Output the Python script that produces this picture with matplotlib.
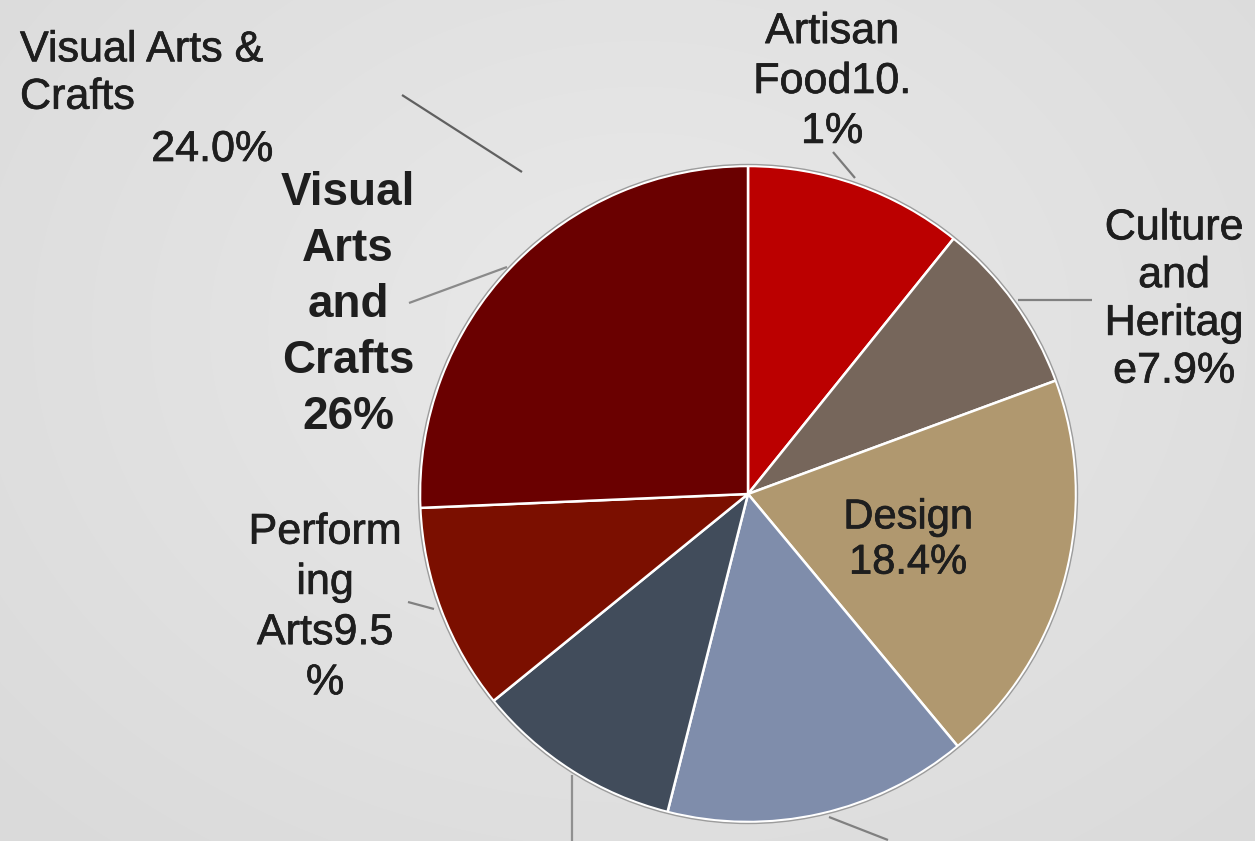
import matplotlib
matplotlib.use("Agg")
import matplotlib.pyplot as plt
import matplotlib.patheffects as pe
from matplotlib.patches import Circle
import numpy as np

W, H = 1255, 841

# slice shares, clockwise from 12 o'clock
categories = ["Artisan Food", "Culture and Heritage", "Design", "Media",
              "Publishing", "Performing Arts", "Visual Arts and Crafts"]
shares = [10.8, 8.6, 19.6, 15.0, 10.2, 10.2, 25.7]
colors = ["#bb0000", "#76665b", "#b0986f", "#7f8dab",
          "#414c5b", "#7b0f00", "#6a0000"]

# label texts as printed on the chart
label_artisan = "Artisan\nFood10.\n1%"
label_culture = "Culture\nand\nHeritag\ne7.9%"
label_design = "Design\n18.4%"
label_perform = "Perform\ning\nArts9.5\n%"
label_visual = "Visual\nArts\nand\nCrafts\n26%"
label_old_name = "Visual Arts &\nCrafts"
label_old_value = "24.0%"

plt.rcParams["font.family"] = ["Liberation Sans", "DejaVu Sans"]


def py(y):
    """image row -> axes y (y up)"""
    return H - y


fig = plt.figure(figsize=(W / 100, H / 100), dpi=100)
ax = fig.add_axes([0, 0, 1, 1])

# soft grey backdrop, a bit lighter towards the middle
yy, xx = np.mgrid[0:H, 0:W]
r = np.hypot((xx - 640) / 900, (yy - 330) / 700)
g = 0.915 - 0.06 * np.clip(r, 0, 1)
ax.imshow(np.dstack([g, g, g]), extent=[0, W, 0, H], origin="upper",
          zorder=0, aspect="auto")

cx, cy, rad = 748, py(494), 328
ax.pie(shares, colors=colors, startangle=90, counterclock=False,
       center=(cx, cy), radius=rad, frame=True,
       wedgeprops=dict(edgecolor="white", linewidth=1.8))
ax.add_patch(Circle((cx, cy), rad + 1.5, fill=False, edgecolor="#9c9c9c",
                    linewidth=1.0, zorder=5))
ax.set_xlim(0, W)
ax.set_ylim(0, H)
ax.set_aspect("auto")
ax.axis("off")

txt = "#1e1e1e"
reg = 31
heavy = [pe.withStroke(linewidth=0.5, foreground=txt)]
ax.text(832, py(82), label_artisan, ha="center", va="center", fontsize=reg,
        color=txt, linespacing=1.32, path_effects=heavy)
ax.text(1174, py(300), label_culture, ha="center", va="center", fontsize=reg,
        color=txt, linespacing=1.25, path_effects=heavy)
ax.text(908, py(540), label_design, ha="center", va="center", fontsize=30,
        color=txt, linespacing=1.17, path_effects=heavy)
ax.text(325, py(608), label_perform, ha="center", va="center", fontsize=reg,
        color=txt, linespacing=1.33, path_effects=heavy)
ax.text(348, py(305), label_visual, ha="center", va="center", fontsize=33,
        fontweight="bold", color=txt, linespacing=1.35)
ax.text(20, py(74), label_old_name, ha="left", va="center", fontsize=reg,
        color=txt, linespacing=1.24, path_effects=heavy)
ax.text(212, py(150), label_old_value, ha="center", va="center", fontsize=reg,
        color=txt, path_effects=heavy)

# leader lines
leaders = [
    ((402, 95), (522, 172), "#606060"),
    ((409, 303), (507, 267), "#8a8a8a"),
    ((833, 152), (855, 178), "#7a7a7a"),
    ((1018, 300), (1092, 300), "#808080"),
    ((408, 602), (434, 609), "#808080"),
    ((572, 775), (572, 841), "#909090"),
    ((829, 817), (888, 840), "#808080"),
]
for (x0, y0), (x1, y1), c in leaders:
    ax.plot([x0, x1], [py(y0), py(y1)], color=c, lw=1.6, zorder=6,
            solid_capstyle="butt")

fig.savefig("out.png", dpi=100)
